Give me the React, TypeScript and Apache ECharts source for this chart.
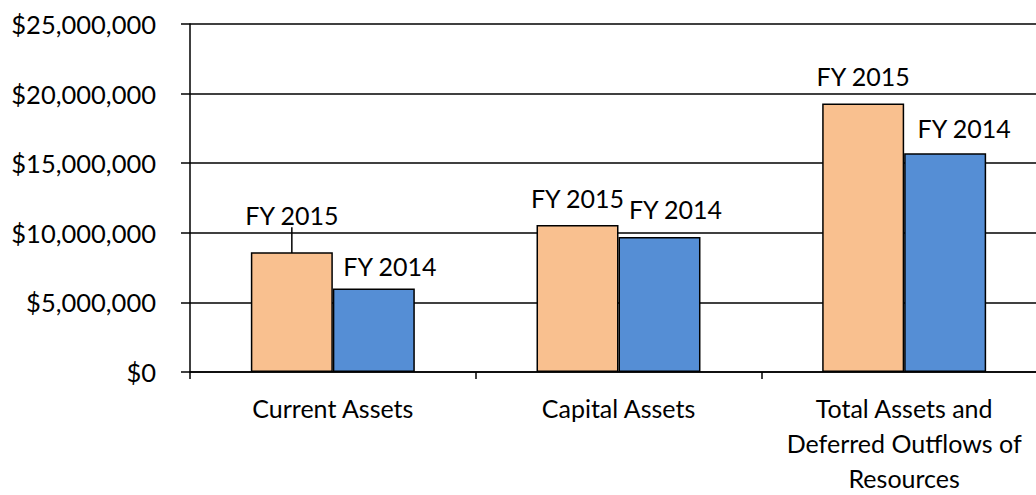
import React, { useEffect, useRef } from "react";
import * as echarts from "echarts";

const categories = ["Current Assets", "Capital Assets", "Total Assets and Deferred Outflows of Resources"];
const tickLabels = ["Current Assets", "Capital Assets", "Total Assets and\nDeferred Outflows of\nResources"];
const seriesNames = ["FY 2015", "FY 2014"];
const fy2015 = [8600000, 10560000, 19280000];
const fy2014 = [6000000, 9700000, 15710000];
const yTicks = [0, 5000000, 10000000, 15000000, 20000000, 25000000];

// label nudges (style only)
const offsets2015: number[][] = [[0, 0], [-14, 0], [0, 0]];
const offsets2014: number[][] = [[16, 5], [16, 0], [19, 2]];

const FONT = "Lato";

function fmtMoney(v: number) {
  return "$" + v.toLocaleString("en-US");
}

export default function App() {
  const ref = useRef<HTMLDivElement>(null);
  useEffect(() => {
    if (!ref.current) return;
    const chart = echarts.init(ref.current, undefined, { renderer: "svg" });
    const mk = (vals: number[], offs: number[][]) =>
      vals.map((v, i) => ({ value: v, label: { offset: offs[i] } }));
    const d2015: any[] = mk(fy2015, offsets2015);
    d2015[0].labelLine = { show: true, lineStyle: { color: "#000", width: 1.5 } };
    chart.setOption({
      animation: false,
      backgroundColor: "#fff",
      grid: { left: 190, top: 24, right: 0, bottom: 121.3, containLabel: false },
      xAxis: {
        type: "category",
        data: categories,
        axisLine: { lineStyle: { color: "#000", width: 1.5 } },
        axisTick: { show: true, length: 7, lineStyle: { color: "#000", width: 1.5 } },
        axisLabel: {
          interval: 0,
          color: "#000",
          fontFamily: FONT,
          fontSize: 25,
          lineHeight: 35,
          margin: 18,
          formatter: (_v: string, i: number) => tickLabels[i],
        },
      },
      yAxis: {
        type: "value",
        min: yTicks[0],
        max: yTicks[yTicks.length - 1],
        interval: 5000000,
        axisLine: { show: true, lineStyle: { color: "#000", width: 1.5 } },
        axisTick: { show: true, length: 9, lineStyle: { color: "#000", width: 1.5 } },
        splitLine: { show: true, lineStyle: { color: "#000", width: 1.5 } },
        axisLabel: {
          color: "#000",
          fontFamily: FONT,
          fontSize: 25.5,
          margin: 34,
          formatter: (v: number) => fmtMoney(v),
        },
      },
      series: [
        {
          name: seriesNames[0],
          type: "bar",
          data: d2015,
          barGap: "0%",
          barCategoryGap: "42.6%",
          itemStyle: { color: "#F9C08F", borderColor: "#000", borderWidth: 1.5 },
          label: {
            show: true,
            position: "top",
            distance: 15,
            color: "#000",
            fontFamily: FONT,
            fontSize: 25,
            formatter: () => seriesNames[0],
          },
          labelLayout: (p: any) => (p.dataIndex === 0 ? { dy: -10 } : {}),
        },
        {
          name: seriesNames[1],
          type: "bar",
          data: mk(fy2014, offsets2014),
          barGap: "0%",
          barCategoryGap: "42.6%",
          itemStyle: { color: "#558ED5", borderColor: "#000", borderWidth: 1.5 },
          label: {
            show: true,
            position: "top",
            distance: 15,
            color: "#000",
            fontFamily: FONT,
            fontSize: 25,
            formatter: () => seriesNames[1],
          },
        },
      ],
    });
    return () => chart.dispose();
  }, []);
  return (
    <div style={{ position: "absolute", left: 0, top: 0, width: 1036, height: 495, overflow: "hidden" }}>
      <div ref={ref} style={{ width: 1046.5, height: 495 }} />
    </div>
  );
}
